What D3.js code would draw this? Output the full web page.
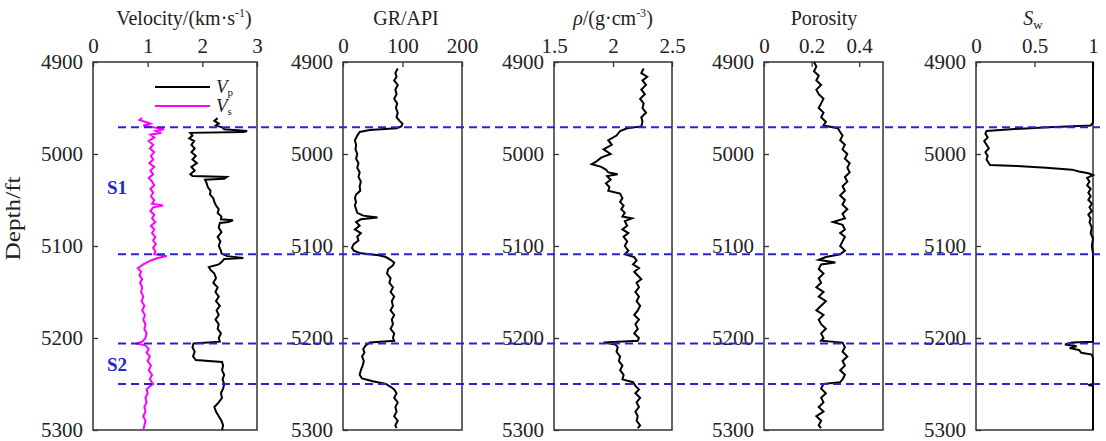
<!DOCTYPE html>
<html>
<head>
<meta charset="utf-8">
<script src="https://cdn.jsdelivr.net/npm/d3@7"></script>
<style>
body { margin: 0; background: #fff; }
text { font-family: "Liberation Serif", "Times New Roman", serif; fill: #222; }
</style>
</head>
<body>
<script>
// depth range and marker depths (ft)
var depthDomain = [4900, 5300];
var depthTicks = [4900, 5000, 5100, 5200, 5300];
var markerDepths = [4971, 5109, 5206, 5250];
var zoneLabels = [["S1", 5036], ["S2", 5229]];

// logs: [depth, value]
var vpLog = [[4961,2.28],[4964,2.22],[4967,2.30],[4969,2.25],[4971,2.36],[4973,2.40],[4975,2.82],[4976,2.75],[4977,1.78],[4980,1.82],[4983,1.76],[4986,1.85],[4990,1.80],[4994,1.86],[4998,1.80],[5002,1.88],[5006,1.82],[5010,1.90],[5014,1.80],[5018,1.86],[5022,1.78],[5024,1.82],[5025,2.45],[5027,2.40],[5028,2.05],[5032,2.08],[5036,2.10],[5040,2.15],[5044,2.14],[5048,2.20],[5052,2.22],[5056,2.25],[5060,2.30],[5064,2.28],[5068,2.35],[5071,2.34],[5072,2.56],[5074,2.48],[5075,2.32],[5080,2.30],[5085,2.35],[5090,2.28],[5095,2.33],[5100,2.30],[5105,2.34],[5108,2.35],[5111,2.45],[5113,2.75],[5114,2.40],[5117,2.36],[5120,2.30],[5123,2.12],[5126,2.15],[5130,2.22],[5135,2.25],[5140,2.20],[5145,2.28],[5150,2.24],[5155,2.30],[5160,2.25],[5165,2.32],[5170,2.26],[5175,2.30],[5180,2.24],[5185,2.30],[5190,2.28],[5195,2.34],[5200,2.30],[5204,2.32],[5206,1.84],[5210,1.82],[5215,1.86],[5220,1.83],[5224,1.88],[5226,2.36],[5230,2.38],[5235,2.36],[5240,2.40],[5245,2.37],[5250,2.40],[5255,2.38],[5260,2.34],[5265,2.36],[5270,2.30],[5275,2.22],[5280,2.25],[5285,2.30],[5290,2.35],[5295,2.38],[5300,2.36]];

var vsLog = [[4961,0.90],[4963,0.85],[4965,0.95],[4967,1.05],[4969,0.92],[4971,1.10],[4973,1.30],[4975,1.15],[4977,1.25],[4979,1.05],[4982,1.12],[4986,1.02],[4990,1.10],[4994,1.04],[4998,1.12],[5002,1.06],[5006,1.10],[5010,1.03],[5014,1.12],[5018,1.05],[5022,1.10],[5026,1.02],[5030,1.08],[5034,1.12],[5038,1.05],[5042,1.10],[5046,1.06],[5050,1.12],[5054,1.08],[5056,1.28],[5058,1.10],[5062,1.05],[5066,1.12],[5070,1.08],[5074,1.14],[5078,1.06],[5082,1.12],[5086,1.08],[5090,1.14],[5094,1.10],[5098,1.15],[5102,1.10],[5106,1.14],[5109,1.12],[5111,1.35],[5113,1.18],[5116,1.05],[5120,0.92],[5124,0.82],[5128,0.88],[5132,0.85],[5136,0.90],[5140,0.86],[5145,0.90],[5150,0.88],[5155,0.92],[5160,0.89],[5165,0.94],[5170,0.90],[5175,0.95],[5180,0.92],[5185,0.96],[5190,0.94],[5195,0.98],[5200,0.96],[5204,0.90],[5206,0.80],[5208,0.96],[5212,1.02],[5216,0.98],[5220,1.04],[5225,1.00],[5230,1.06],[5235,1.02],[5240,1.08],[5245,1.04],[5250,1.10],[5252,1.05],[5256,0.98],[5260,1.00],[5265,0.96],[5270,0.98],[5275,0.94],[5280,0.96],[5285,0.92],[5290,0.96],[5295,0.94],[5300,0.92]];

var grLog = [[4907,92],[4912,88],[4916,90],[4920,86],[4925,92],[4930,88],[4935,90],[4940,86],[4945,91],[4950,89],[4955,92],[4960,90],[4964,95],[4967,100],[4970,98],[4972,90],[4974,45],[4976,28],[4980,24],[4985,20],[4990,22],[4995,21],[5000,24],[5005,22],[5010,26],[5015,24],[5020,28],[5025,26],[5030,30],[5035,28],[5040,29],[5044,22],[5048,20],[5052,22],[5056,20],[5060,22],[5064,24],[5067,34],[5069,58],[5071,30],[5074,22],[5078,28],[5082,20],[5086,30],[5090,24],[5094,26],[5098,18],[5102,15],[5105,18],[5108,30],[5110,60],[5112,72],[5115,80],[5118,86],[5121,84],[5125,76],[5130,74],[5135,80],[5140,78],[5145,84],[5150,80],[5155,86],[5160,82],[5165,84],[5170,80],[5175,86],[5180,82],[5185,84],[5190,80],[5195,86],[5200,84],[5203,86],[5205,45],[5208,38],[5212,34],[5216,36],[5220,32],[5225,35],[5230,33],[5235,30],[5240,28],[5244,32],[5247,50],[5250,72],[5253,80],[5256,86],[5260,90],[5265,86],[5270,92],[5275,88],[5280,90],[5285,86],[5290,92],[5295,88],[5298,90]];

var rhoLog = [[4907,2.26],[4912,2.24],[4916,2.29],[4920,2.25],[4925,2.28],[4930,2.24],[4935,2.27],[4940,2.23],[4945,2.26],[4950,2.25],[4955,2.28],[4960,2.24],[4965,2.25],[4970,2.24],[4972,2.12],[4975,2.06],[4980,2.03],[4985,1.96],[4990,1.99],[4995,1.92],[5000,1.98],[5004,1.90],[5008,1.86],[5011,1.82],[5014,1.90],[5017,1.94],[5020,1.96],[5022,2.04],[5024,1.95],[5028,1.98],[5032,1.94],[5036,1.97],[5040,1.96],[5043,2.06],[5048,2.08],[5052,2.06],[5056,2.09],[5060,2.07],[5064,2.10],[5068,2.08],[5070,2.16],[5073,2.10],[5078,2.12],[5082,2.08],[5086,2.13],[5090,2.09],[5095,2.12],[5100,2.10],[5105,2.13],[5109,2.10],[5112,2.18],[5116,2.20],[5120,2.17],[5124,2.22],[5128,2.18],[5132,2.21],[5136,2.24],[5140,2.20],[5145,2.22],[5150,2.19],[5155,2.22],[5160,2.20],[5165,2.23],[5170,2.21],[5175,2.18],[5180,2.22],[5185,2.19],[5190,2.21],[5195,2.18],[5200,2.22],[5203,2.21],[5205,1.92],[5207,2.02],[5210,2.04],[5215,2.03],[5220,2.06],[5225,2.05],[5230,2.08],[5235,2.06],[5240,2.09],[5245,2.08],[5248,2.17],[5252,2.19],[5256,2.22],[5260,2.19],[5265,2.23],[5270,2.20],[5275,2.22],[5280,2.19],[5285,2.21],[5290,2.20],[5295,2.23],[5298,2.21]];

var phiLog = [[4900,0.21],[4905,0.22],[4910,0.21],[4915,0.23],[4920,0.22],[4925,0.24],[4930,0.22],[4935,0.23],[4940,0.25],[4945,0.24],[4950,0.23],[4955,0.25],[4960,0.24],[4965,0.26],[4969,0.25],[4972,0.31],[4976,0.32],[4980,0.33],[4985,0.32],[4990,0.34],[4995,0.33],[5000,0.35],[5005,0.34],[5010,0.36],[5015,0.35],[5020,0.36],[5025,0.34],[5030,0.35],[5035,0.33],[5040,0.34],[5045,0.32],[5050,0.34],[5055,0.33],[5060,0.35],[5065,0.33],[5070,0.34],[5074,0.29],[5077,0.33],[5082,0.34],[5086,0.32],[5090,0.34],[5095,0.33],[5100,0.32],[5105,0.34],[5109,0.32],[5112,0.26],[5115,0.23],[5118,0.30],[5120,0.24],[5125,0.23],[5130,0.25],[5135,0.23],[5140,0.24],[5145,0.22],[5150,0.25],[5155,0.23],[5160,0.26],[5165,0.24],[5170,0.22],[5175,0.25],[5180,0.23],[5185,0.24],[5190,0.26],[5195,0.24],[5200,0.25],[5203,0.24],[5205,0.33],[5210,0.34],[5215,0.33],[5220,0.35],[5225,0.33],[5230,0.34],[5235,0.32],[5240,0.34],[5245,0.33],[5248,0.32],[5250,0.25],[5255,0.24],[5260,0.26],[5265,0.24],[5270,0.25],[5275,0.23],[5280,0.25],[5285,0.22],[5290,0.24],[5295,0.23],[5298,0.24]];

var swLog = [[4900,1.0],[4966,1.0],[4969,0.98],[4971,0.62],[4973,0.30],[4975,0.09],[4978,0.08],[4982,0.10],[4986,0.07],[4990,0.09],[4994,0.11],[4998,0.08],[5002,0.10],[5006,0.09],[5010,0.11],[5012,0.12],[5013,0.35],[5015,0.60],[5017,0.82],[5019,0.88],[5021,0.96],[5023,1.0],[5026,0.95],[5030,0.97],[5034,0.95],[5038,0.98],[5042,0.96],[5046,0.98],[5050,0.96],[5054,0.99],[5058,0.97],[5062,0.99],[5066,0.96],[5070,0.98],[5074,0.97],[5080,0.99],[5086,0.98],[5092,1.0],[5100,0.99],[5108,1.0],[5204,1.0],[5205,0.82],[5207,0.76],[5209,0.86],[5211,0.80],[5213,0.88],[5216,0.90],[5218,0.99],[5222,1.0],[5250,1.0],[5251,0.96],[5252,1.0],[5300,1.0]];

var width = 1106, height = 441;
var yTop = 62, yBottom = 430;

var svg = d3.select("body").append("svg")
    .attr("width", width)
    .attr("height", height);

var y = d3.scaleLinear().domain(depthDomain).range([yTop, yBottom]);

var tracks = [
    { left: 93,  right: 257,  domain: [0, 3],     ticks: [0, 1, 2, 3],      fmt: d3.format("d"), cx: 184 },
    { left: 343, right: 462,  domain: [0, 200],   ticks: [0, 100, 200],     fmt: d3.format("d"), cx: 406 },
    { left: 554, right: 672,  domain: [1.5, 2.5], ticks: [1.5, 2, 2.5],     fmt: function (d) { return String(d); }, cx: 613 },
    { left: 764, right: 883,  domain: [0, 0.5],   ticks: [0, 0.2, 0.4],     fmt: function (d) { return String(d); }, cx: 824 },
    { left: 976, right: 1093, domain: [0, 1],     ticks: [0, 0.5, 1],       fmt: function (d) { return String(d); }, cx: 1033 }
];

tracks.forEach(function (t) {
    t.x = d3.scaleLinear().domain(t.domain).range([t.left, t.right]);
});

var line = function (xs) {
    return d3.line()
        .x(function (d) { return xs(d[1]); })
        .y(function (d) { return y(d[0]); });
};

// axes
tracks.forEach(function (t) {
    var gx = svg.append("g")
        .attr("transform", "translate(0," + yTop + ")")
        .call(d3.axisTop(t.x).tickValues(t.ticks).tickFormat(t.fmt).tickSize(-5).tickPadding(9));
    var gy = svg.append("g")
        .attr("transform", "translate(" + t.left + ",0)")
        .call(d3.axisLeft(y).tickValues(depthTicks).tickFormat(d3.format("d")).tickSize(-5).tickPadding(10));
    [gx, gy].forEach(function (g) {
        g.select(".domain").remove();
        g.selectAll("line").attr("stroke", "#333").attr("stroke-width", 1.3);
        g.selectAll("text").style("font-family", "Liberation Serif").style("font-size", "21px").attr("fill", "#222");
    });
    svg.append("rect")
        .attr("x", t.left).attr("y", yTop)
        .attr("width", t.right - t.left).attr("height", yBottom - yTop)
        .attr("fill", "none").attr("stroke", "#333").attr("stroke-width", 1.5);
});

// titles
var titleY = 25;
var ft = "20px";
var t0 = svg.append("text").attr("x", tracks[0].cx).attr("y", titleY).attr("text-anchor", "middle").style("font-size", ft);
t0.append("tspan").text("Velocity/(km·s");
t0.append("tspan").attr("dy", -8).style("font-size", "12px").text("-1");
t0.append("tspan").attr("dy", 8).text(")");

svg.append("text").attr("x", tracks[1].cx).attr("y", titleY).attr("text-anchor", "middle").style("font-size", ft).text("GR/API");

var t2 = svg.append("text").attr("x", tracks[2].cx).attr("y", titleY).attr("text-anchor", "middle").style("font-size", ft);
t2.append("tspan").style("font-style", "italic").text("ρ");
t2.append("tspan").text("/(g·cm");
t2.append("tspan").attr("dy", -8).style("font-size", "12px").text("-3");
t2.append("tspan").attr("dy", 8).text(")");

svg.append("text").attr("x", tracks[3].cx).attr("y", titleY).attr("text-anchor", "middle").style("font-size", ft).text("Porosity");

var t4 = svg.append("text").attr("x", tracks[4].cx).attr("y", titleY).attr("text-anchor", "middle").style("font-size", ft);
t4.append("tspan").style("font-style", "italic").text("S");
t4.append("tspan").attr("dy", 4).style("font-size", "13px").text("w");

svg.append("text")
    .attr("transform", "translate(20," + y(5070) + ") rotate(-90)")
    .attr("text-anchor", "middle")
    .attr("textLength", 84)
    .attr("lengthAdjust", "spacingAndGlyphs")
    .style("font-size", "20px")
    .text("Depth/ft");

// curves
svg.append("path").datum(vsLog).attr("d", line(tracks[0].x))
    .attr("fill", "none").attr("stroke", "#ff00ff").attr("stroke-width", 2);
svg.append("path").datum(vpLog).attr("d", line(tracks[0].x))
    .attr("fill", "none").attr("stroke", "#000").attr("stroke-width", 2);
svg.append("path").datum(grLog).attr("d", line(tracks[1].x))
    .attr("fill", "none").attr("stroke", "#000").attr("stroke-width", 2);
svg.append("path").datum(rhoLog).attr("d", line(tracks[2].x))
    .attr("fill", "none").attr("stroke", "#000").attr("stroke-width", 2);
svg.append("path").datum(phiLog).attr("d", line(tracks[3].x))
    .attr("fill", "none").attr("stroke", "#000").attr("stroke-width", 2);
svg.append("path").datum(swLog).attr("d", line(tracks[4].x))
    .attr("fill", "none").attr("stroke", "#000").attr("stroke-width", 2);

// legend
var legend = [["p", "#000", 87], ["s", "#ff00ff", 106]];
legend.forEach(function (l) {
    svg.append("line").attr("x1", 155).attr("x2", 210).attr("y1", l[2]).attr("y2", l[2])
        .attr("stroke", l[1]).attr("stroke-width", 2);
    var lt = svg.append("text").attr("x", 216).attr("y", l[2] + 6).style("font-size", "19px");
    lt.append("tspan").style("font-style", "italic").text("V");
    lt.append("tspan").attr("dy", 3).style("font-size", "11px").text(l[0]);
});

// markers
svg.append("g").selectAll("line")
    .data(markerDepths)
    .enter()
    .append("line")
    .attr("x1", 118)
    .attr("x2", 1100)
    .attr("y1", function (d) { return y(d); })
    .attr("y2", function (d) { return y(d); })
    .attr("stroke", "#2626d0")
    .attr("stroke-width", 2)
    .attr("stroke-dasharray", "8,5");

svg.append("g").selectAll("text")
    .data(zoneLabels)
    .enter()
    .append("text")
    .attr("x", 117)
    .attr("y", function (d) { return y(d[1]); })
    .attr("dy", "0.35em")
    .attr("text-anchor", "middle")
    .style("font-size", "19px")
    .style("font-weight", "bold")
    .style("fill", "#2626d0")
    .text(function (d) { return d[0]; });
</script>
</body>
</html>
